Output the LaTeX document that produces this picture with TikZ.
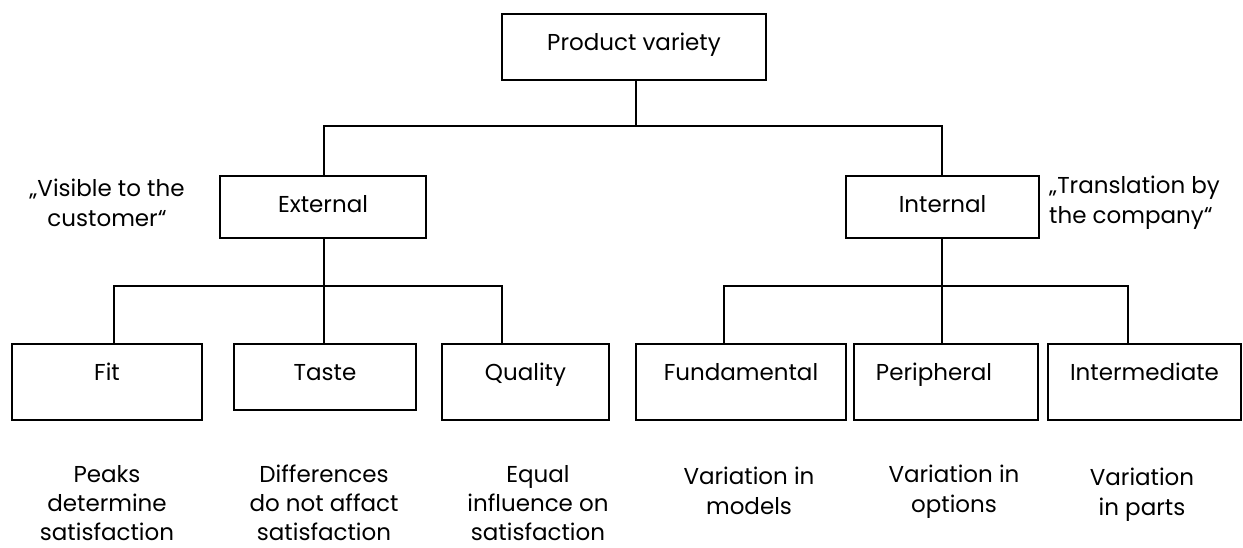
\documentclass[tikz,border=0pt]{standalone}
\usepackage{fontspec}
\setmainfont{Poppins}
\begin{document}
\begin{tikzpicture}[x=1pt,y=-1pt,
  every node/.style={font=\fontsize{23}{30}\selectfont},
  % box whose label baseline sits 36pt below its top edge; #1 = total height
  box/.style={draw, line width=1.6pt, inner sep=0pt, text height=36pt, text depth=#1-36pt},
  box/.default=76pt,
  note/.style={align=center, inner sep=0pt},
  tallnote/.style={note, font=\fontsize{23}{29}\selectfont},
  link/.style={line width=1.6pt}]
\useasboundingbox (0,0) rectangle (1243,547);

% category boxes
\node[box=66pt, minimum width=264pt] (top) at (634,47) {Product variety};
\node[box=62pt, minimum width=206pt] (ext) at (323,207) {External};
\node[box=62pt, minimum width=193pt] (int) at (942.5,207) {Internal};

\node[box, minimum width=190pt] (fit) at (107,382) {Fit};
\node[box=66pt, minimum width=182pt] (taste) at (325,377) {Taste};
\node[box, minimum width=167pt] (quality) at (525.5,382) {Quality};
\node[box, minimum width=210pt] (fund) at (741,382) {Fundamental};
\node[box, minimum width=184pt] (peri) at (946,382) {Peripheral\hspace*{24pt}};
\node[box, minimum width=193pt] (inter) at (1144.5,382) {Intermediate};

% side remarks
\node[note] (vis) at (107,203) {„Visible to the\\customer“};
\node[note, align=left, anchor=west] (trans) at (1049,203) {„Translation by\\the company“};

% descriptions below the boxes
\node[tallnote] (dfit) at (107,503) {Peaks\\determine\\satisfaction};
\node[tallnote] (dtaste) at (324,503) {Differences\\do not affact\\satisfaction};
\node[tallnote] (dqual) at (538,503) {Equal\\influence on\\satisfaction};
\node[note] (dfund) at (749,491) {Variation in\\models};
\node[note] (dperi) at (954,492) {Variation in\\options};
\node[note] (dinter) at (1142,495) {Variation\\in parts};

% junction points of the tree
\coordinate (j0) at (636,126);
\coordinate (jl) at (324,286);
\coordinate (jr) at (942,286);
\coordinate (jfit) at (114,286);
\coordinate (jqual) at (502,286);
\coordinate (jfund) at (724,286);
\coordinate (jinter) at (1128,286);

% connectors
\draw[link] (top.south -| j0) -- (j0);
\draw[link] (ext.north -| jl) |- (j0) -| (int.north -| jr);
\draw[link] (ext.south -| jl) -- (jl) -- (taste.north -| jl);
\draw[link] (fit.north -| jfit) -- (jfit) -- (jqual) -- (quality.north -| jqual);
\draw[link] (int.south -| jr) -- (jr) -- (peri.north -| jr);
\draw[link] (fund.north -| jfund) -- (jfund) -- (jinter) -- (inter.north -| jinter);
\end{tikzpicture}
\end{document}
